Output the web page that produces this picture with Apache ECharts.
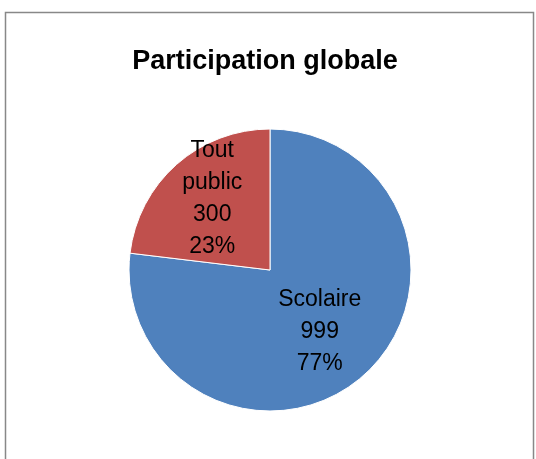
<!DOCTYPE html>
<html>
<head>
<meta charset="utf-8">
<script src="https://cdn.jsdelivr.net/npm/echarts@6/dist/echarts.min.js"></script>
<style>
  html, body { margin: 0; padding: 0; background: #fff; }
  #chart { width: 536px; height: 459px; }
</style>
</head>
<body>
<div id="chart"></div>
<script>
// données du graphique
const categories = ['Scolaire', 'Tout public']
const values = [999, 300]
const colors = ['#4F81BD', '#C0504D']
const labelOffsets = [[1, 7], [-9, -16]]

const chart = echarts.init(document.getElementById('chart'))

chart.setOption({
    animation: false,
    graphic: [{
        type: 'rect',
        shape: { x: 5.5, y: 12.5, width: 528, height: 460 },
        style: { fill: 'none', stroke: '#888', lineWidth: 1.5 }
    }],
    title: {
        text: 'Participation globale',
        left: 260,
        textAlign: 'center',
        top: 43,
        textStyle: {
            fontFamily: 'Liberation Sans',
            fontWeight: 'bold',
            fontSize: 27,
            color: '#000'
        }
    },
    series: [{
        type: 'pie',
        center: [270, 270],
        radius: 141,
        startAngle: 90,
        clockwise: true,
        itemStyle: { borderColor: '#fff', borderWidth: 1 },
        label: {
            position: 'inside',
            formatter: p => p.name.replace(' ', '\n') + '\n' + p.value + '\n' + Math.round(p.percent) + '%',
            fontFamily: 'Liberation Sans',
            fontSize: 23,
            lineHeight: 32,
            color: '#000',
            align: 'center'
        },
        labelLine: { show: false },
        data: categories.map((name, i) => ({
            name,
            value: values[i],
            itemStyle: { color: colors[i] },
            label: { offset: labelOffsets[i] }
        }))
    }]
})
</script>
</body>
</html>
